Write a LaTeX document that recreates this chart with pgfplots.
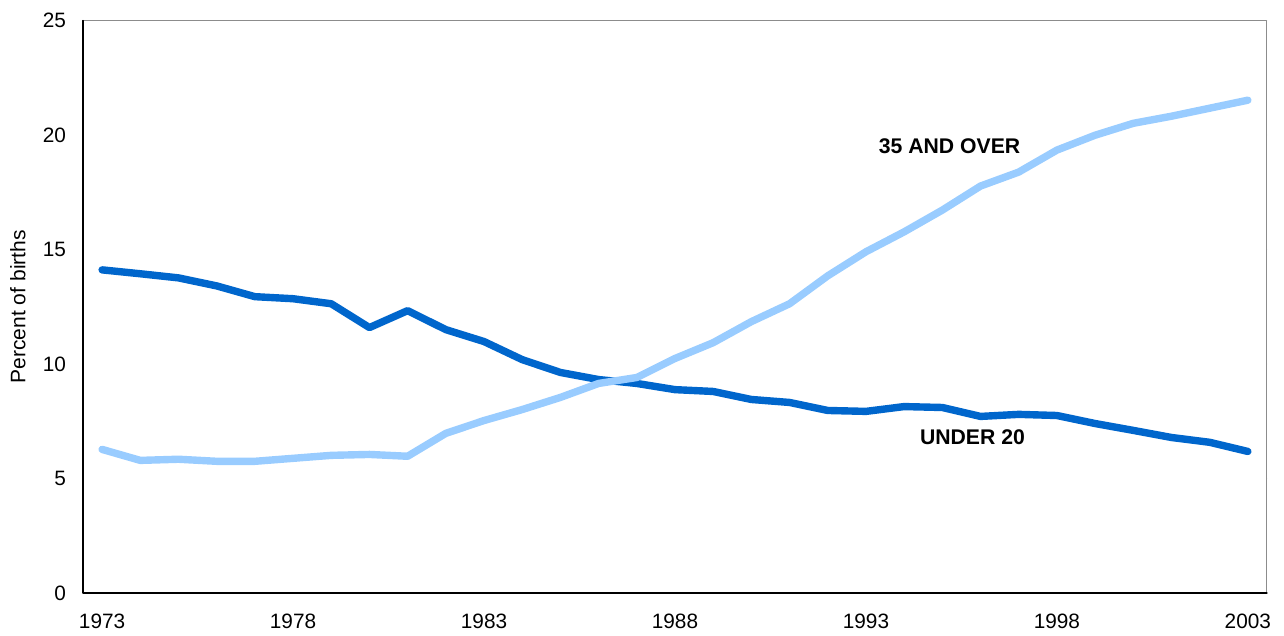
\documentclass[border=0pt]{standalone}
\usepackage{pgfplots}
\pgfplotsset{compat=1.18}
\usepackage{fontspec}
\setmainfont{Liberation Sans}
\definecolor{darkb}{HTML}{0066CC}
\definecolor{lightb}{HTML}{99CCFF}
\begin{document}
\begin{tikzpicture}
\begin{axis}[
  scale only axis,
  width=592pt, height=286.25pt,
  xmin=1972.5, xmax=2003.5,
  ymin=0, ymax=25,
  xtick={1973,1978,1983,1988,1993,1998,2003},
  ytick={0,5,10,15,20,25},
  major tick length=0pt,
  axis line style={draw=gray!90, line width=0.5pt},
  tick label style={font=\fontsize{10.4}{12}\selectfont},
  /pgf/number format/assume math mode=true,
  /pgf/number format/1000 sep={},
  xticklabel style={yshift=-7pt},
  yticklabel style={xshift=-5pt},
  ylabel={Percent of births},
  ylabel style={at={(axis description cs:-0.0549,0.5)}, anchor=center, font=\fontsize{10.5}{12}\selectfont},
  clip=false,
  line cap=round, line join=round,
]
\addplot[darkb, line width=3.7pt] coordinates {
(1973,14.11)(1974,13.94)(1975,13.76)(1976,13.41)(1977,12.94)(1978,12.85)(1979,12.63)(1980,11.59)(1981,12.33)(1982,11.50)(1983,10.98)(1984,10.19)(1985,9.63)(1986,9.32)(1987,9.15)(1988,8.88)(1989,8.80)(1990,8.45)(1991,8.32)(1992,7.97)(1993,7.93)(1994,8.14)(1995,8.10)(1996,7.71)(1997,7.80)(1998,7.75)(1999,7.40)(2000,7.10)(2001,6.79)(2002,6.58)(2003,6.18)
};
\addplot[lightb, line width=3.7pt] coordinates {
(1973,6.27)(1974,5.79)(1975,5.84)(1976,5.75)(1977,5.75)(1978,5.88)(1979,6.01)(1980,6.05)(1981,5.97)(1982,6.97)(1983,7.53)(1984,8.01)(1985,8.54)(1986,9.15)(1987,9.41)(1988,10.24)(1989,10.93)(1990,11.85)(1991,12.63)(1992,13.85)(1993,14.90)(1994,15.77)(1995,16.72)(1996,17.77)(1997,18.38)(1998,19.34)(1999,19.99)(2000,20.51)(2001,20.82)(2002,21.17)(2003,21.52)
};
\node[font=\fontsize{10.6}{12}\selectfont\bfseries] at (axis cs:1995.19,19.52) {35 AND OVER};
\node[font=\fontsize{10.6}{12}\selectfont\bfseries] at (axis cs:1995.79,6.81) {UNDER 20};
\draw[black, line width=0.6pt] (rel axis cs:0,1) -- (rel axis cs:0,0) -- (rel axis cs:1,0);
\path (axis description cs:-0.0701,-0.0734) rectangle (axis description cs:1.0144,1.0358);
\end{axis}
\end{tikzpicture}
\end{document}
